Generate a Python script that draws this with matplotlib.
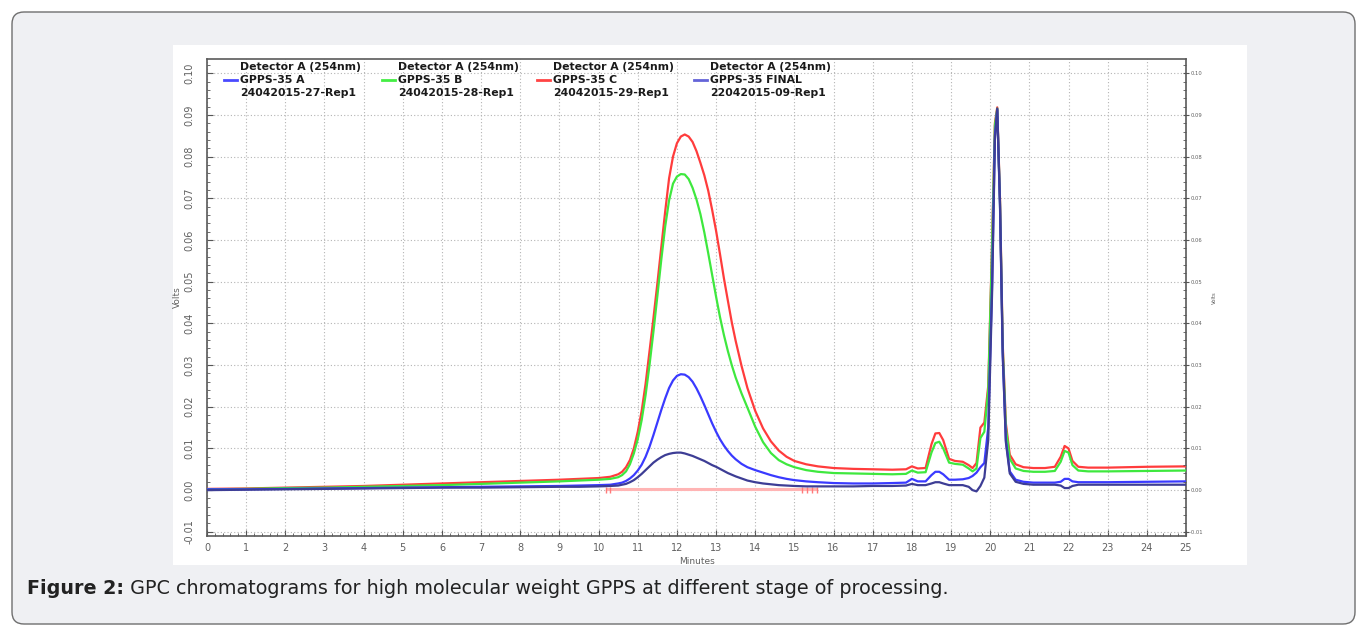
import matplotlib
matplotlib.use("Agg")
import matplotlib.pyplot as plt
from matplotlib.patches import FancyBboxPatch, Rectangle
from matplotlib.ticker import MultipleLocator, FixedLocator

# ---------------- data ----------------
time_min = [0, 1, 2, 3, 4, 5, 6, 7, 8, 9, 9.5, 10, 10.3,
            10.5, 10.6, 10.7, 10.8, 10.9, 11.0, 11.1, 11.2, 11.3, 11.4,
            11.5, 11.6, 11.7, 11.8, 11.9, 12.0, 12.1, 12.2, 12.3, 12.4,
            12.5, 12.6, 12.7, 12.8, 12.9, 13.0, 13.1, 13.2, 13.3, 13.4, 13.5,
            13.65, 13.8, 14.0, 14.2, 14.4, 14.6, 14.8, 15.0, 15.3, 15.6, 16.0, 16.5, 17.0,
            17.5, 17.85, 18.0, 18.15, 18.35, 18.5, 18.6, 18.7, 18.8, 18.95,
            19.1, 19.3, 19.45, 19.55, 19.65, 19.75, 19.85, 19.95, 20.05,
            20.12, 20.18, 20.25, 20.32, 20.4, 20.5, 20.65, 20.85, 21.1, 21.4,
            21.65, 21.8, 21.9, 22.0, 22.1, 22.25, 22.5, 23.0, 24.0, 25.0]

gpps_c = [0.0003, 0.0004, 0.0006, 0.0008, 0.0010, 0.0013, 0.0016, 0.0019, 0.0022, 0.0025, 0.0027, 0.0029, 0.0032,
          0.0038, 0.0044, 0.0055, 0.0072, 0.0100, 0.0140, 0.0190, 0.0255, 0.0333, 0.0412,
          0.0495, 0.0582, 0.0668, 0.0748, 0.0800, 0.0832, 0.0848, 0.0853, 0.0848, 0.0835,
          0.0813, 0.0785, 0.0755, 0.0718, 0.0672, 0.0622, 0.0566, 0.0508, 0.0455, 0.0403, 0.0358,
          0.0298, 0.0245, 0.0190, 0.0148, 0.0117, 0.0095, 0.0080, 0.0070, 0.0062, 0.0057, 0.0053, 0.0051, 0.0050,
          0.0049, 0.0050, 0.0057, 0.0052, 0.0053, 0.0110, 0.0136, 0.0137, 0.0120, 0.0075,
          0.0070, 0.0068, 0.0060, 0.0053, 0.0065, 0.0150, 0.0162, 0.0250, 0.0600,
          0.0880, 0.0918, 0.0700, 0.0350, 0.0160, 0.0085, 0.0062, 0.0055, 0.0053, 0.0053,
          0.0056, 0.0080, 0.0106, 0.0100, 0.0070, 0.0056, 0.0054, 0.0054, 0.0056, 0.0057]

gpps_b = [0.0002, 0.0003, 0.0005, 0.0006, 0.0008, 0.0010, 0.0012, 0.0015, 0.0018, 0.0021, 0.0023, 0.0025, 0.0027,
          0.0031, 0.0036, 0.0045, 0.0062, 0.0088, 0.0122, 0.0168, 0.0228, 0.0300, 0.0380,
          0.0465, 0.0552, 0.0632, 0.0695, 0.0735, 0.0752, 0.0758, 0.0757, 0.0746, 0.0725,
          0.0697, 0.0662, 0.0618, 0.0568, 0.0516, 0.0464, 0.0415, 0.0372, 0.0334, 0.0300, 0.0270,
          0.0232, 0.0198, 0.0152, 0.0115, 0.0089, 0.0072, 0.0062, 0.0055, 0.0048, 0.0044, 0.0041, 0.0040, 0.0039,
          0.0038, 0.0039, 0.0047, 0.0042, 0.0043, 0.0090, 0.0113, 0.0116, 0.0100, 0.0066,
          0.0063, 0.0061, 0.0052, 0.0045, 0.0052, 0.0125, 0.0140, 0.0240, 0.0590,
          0.0875, 0.0915, 0.0690, 0.0340, 0.0150, 0.0075, 0.0052, 0.0046, 0.0044, 0.0044,
          0.0046, 0.0068, 0.0094, 0.0090, 0.0060, 0.0047, 0.0045, 0.0045, 0.0046, 0.0047]

gpps_a = [0.0002, 0.0002, 0.0003, 0.0004, 0.0005, 0.0006, 0.0007, 0.0008, 0.0009, 0.0010, 0.0011, 0.0012, 0.0013,
          0.0016, 0.0018, 0.0022, 0.0028, 0.0036, 0.0047, 0.0061, 0.0080, 0.0104, 0.0132,
          0.0162, 0.0192, 0.0220, 0.0245, 0.0263, 0.0274, 0.0278, 0.0277, 0.0271, 0.0260,
          0.0244, 0.0225, 0.0204, 0.0182, 0.0160, 0.0140, 0.0122, 0.0107, 0.0094, 0.0083, 0.0074,
          0.0063, 0.0055, 0.0048, 0.0042, 0.0036, 0.0031, 0.0027, 0.0024, 0.0021, 0.0019, 0.0017, 0.0016, 0.0016,
          0.0017, 0.0018, 0.0027, 0.0021, 0.0021, 0.0036, 0.0044, 0.0044, 0.0038, 0.0025,
          0.0025, 0.0026, 0.0029, 0.0034, 0.0042, 0.0055, 0.0065, 0.0150, 0.0500,
          0.0850, 0.0912, 0.0680, 0.0320, 0.0120, 0.0045, 0.0025, 0.0020, 0.0018, 0.0018,
          0.0018, 0.0020, 0.0027, 0.0027, 0.0021, 0.0019, 0.0019, 0.0019, 0.0020, 0.0021]

gpps_final = [0.0000, 0.0001, 0.0002, 0.0003, 0.0004, 0.0005, 0.0006, 0.0006, 0.0007, 0.0008, 0.0008, 0.0009, 0.0010,
              0.0011, 0.0013, 0.0015, 0.0019, 0.0024, 0.0031, 0.0039, 0.0048, 0.0057, 0.0066,
              0.0073, 0.0079, 0.0084, 0.0087, 0.0089, 0.0090, 0.0090, 0.0088, 0.0085, 0.0082,
              0.0078, 0.0074, 0.0070, 0.0065, 0.0060, 0.0056, 0.0051, 0.0046, 0.0041, 0.0037, 0.0033,
              0.0028, 0.0023, 0.0019, 0.0016, 0.0014, 0.0012, 0.0011, 0.0010, 0.0009, 0.0009, 0.0009, 0.0009, 0.0010,
              0.0010, 0.0011, 0.0015, 0.0012, 0.0012, 0.0016, 0.0019, 0.0019, 0.0016, 0.0012,
              0.0012, 0.0012, 0.0008, 0.0000, -0.0003, 0.0010, 0.0030, 0.0120, 0.0480,
              0.0840, 0.0915, 0.0690, 0.0330, 0.0115, 0.0040, 0.0020, 0.0015, 0.0013, 0.0013,
              0.0013, 0.0011, 0.0005, 0.0005, 0.0010, 0.0013, 0.0013, 0.0013, 0.0013, 0.0013]

integration_baseline_x = [10.25, 15.55]
integration_baseline_y = [0.0003, 0.0003]
event_marks_x = [10.2, 10.3, 15.2, 15.33, 15.45, 15.58]

legend_detector = ["Detector A (254nm)"] * 4
legend_samples = ["GPPS-35 A", "GPPS-35 B", "GPPS-35 C", "GPPS-35 FINAL"]
legend_runs = ["24042015-27-Rep1", "24042015-28-Rep1", "24042015-29-Rep1", "22042015-09-Rep1"]

y_ticks = [-0.01, 0.00, 0.01, 0.02, 0.03, 0.04, 0.05, 0.06, 0.07, 0.08, 0.09, 0.10]
x_ticks = list(range(0, 26))

caption_bold = "Figure 2:"
caption_text = " GPC chromatograms for high molecular weight GPPS at different stage of processing."

for arr in (gpps_a, gpps_b, gpps_c, gpps_final):
    assert len(arr) == len(time_min)

# ---------------- styles ----------------
series = [
    (gpps_c, "#ff3c3c"),
    (gpps_b, "#3ee83e"),
    (gpps_a, "#3a3aff"),
    (gpps_final, "#3d3d95"),
]
legend_colors = ["#4a4aff", "#44ee44", "#ff4444", "#6464d8"]

W, H = 1367, 635
fig = plt.figure(figsize=(W / 100, H / 100), dpi=100)
fig.patch.set_facecolor("white")

# background layer in pixel coordinates
bg = fig.add_axes([0, 0, 1, 1], zorder=0)
bg.set_xlim(0, W)
bg.set_ylim(H, 0)
bg.axis("off")
bg.add_patch(FancyBboxPatch((12, 12), 1343, 612,
                            boxstyle="round,pad=0,rounding_size=12",
                            facecolor="#eff0f3", edgecolor="#6f6f6f", linewidth=1.0))
bg.add_patch(Rectangle((173, 45), 1074, 520, facecolor="white", edgecolor="none"))

# main axes
left, right, top, bottom = 207, 1186, 59, 536
ax = fig.add_axes([left / W, 1 - bottom / H, (right - left) / W, (bottom - top) / H], zorder=2)
ax.set_facecolor("white")
ax.set_xlim(0, 25)
ax.set_ylim(-0.0110, 0.1034)

ax.xaxis.set_major_locator(FixedLocator(x_ticks))
ax.yaxis.set_major_locator(FixedLocator(y_ticks))
ax.xaxis.set_minor_locator(MultipleLocator(0.2))
ax.yaxis.set_minor_locator(MultipleLocator(0.002))
ax.grid(True, which="major", color="#b4b4b4", linestyle=(0, (1, 2)), linewidth=0.8)
ax.set_axisbelow(True)

ax.tick_params(axis="both", which="major", direction="in", length=4, width=0.8,
               color="#555555", labelsize=7, labelcolor="#606060")
ax.tick_params(axis="both", which="minor", direction="in", length=2, width=0.6,
               color="#555555")
ax.set_xticklabels([str(t) for t in x_ticks])
ax.set_yticklabels(["%.2f" % t for t in y_ticks], rotation=90, va="center")
ax.tick_params(axis="y", pad=9)
ax.tick_params(axis="x", pad=5)
for sp in ax.spines.values():
    sp.set_color("#5a5a5a")
    sp.set_linewidth(1.2)

ax.set_xlabel("Minutes", fontsize=6.5, color="#606060", labelpad=3)
ax.set_ylabel("Volts", fontsize=6.5, color="#606060", labelpad=2)

ax.plot(integration_baseline_x, integration_baseline_y, color="#ffb4b4", linewidth=2.2, zorder=2)
ax.plot(event_marks_x, [0.0] * len(event_marks_x), linestyle="none", marker="|",
        markersize=5, markeredgewidth=1.0, color="#ff7a7a", zorder=2)

for ys, col in series:
    ax.plot(time_min, ys, color=col, linewidth=1.6, zorder=3, solid_joinstyle="round")

# right axis
ax2 = ax.twinx()
ax2.set_ylim(ax.get_ylim())
ax2.yaxis.set_major_locator(FixedLocator(y_ticks))
ax2.yaxis.set_minor_locator(MultipleLocator(0.002))
ax2.set_yticklabels(["%.2f" % t for t in y_ticks])
ax2.tick_params(axis="y", which="major", direction="inout", length=4, width=0.8,
                color="#555555", labelsize=3.8, labelcolor="#606060", pad=1)
ax2.tick_params(axis="y", which="minor", direction="in", length=2, width=0.6, color="#555555")
ax2.set_ylabel("Volts", fontsize=3.8, color="#606060", labelpad=6)
for sp in ax2.spines.values():
    sp.set_visible(False)

# legend block
col_text_x = [240, 398, 553, 710]
row_y = [67, 80, 93]
txt_kw = dict(fontsize=7.8, fontweight="bold", color="#1a1a1a", va="center", ha="left",
              family="DejaVu Sans", zorder=5)
for i in range(4):
    x0 = col_text_x[i]
    fig.text(x0 / W, 1 - row_y[0] / H, legend_detector[i], **txt_kw)
    fig.text(x0 / W, 1 - row_y[1] / H, legend_samples[i], **txt_kw)
    fig.text(x0 / W, 1 - row_y[2] / H, legend_runs[i], **txt_kw)
    fig.add_artist(plt.Line2D([(x0 - 16) / W, (x0 - 3) / W],
                              [1 - row_y[1] / H, 1 - row_y[1] / H],
                              color=legend_colors[i], linewidth=2.0, zorder=5))

# caption (same family and size for both parts, total width fitted)
renderer = fig.canvas.get_renderer()
cap_size = 12
t1 = fig.text(27 / W, 1 - 588 / H, caption_bold, fontsize=cap_size, fontweight="bold",
              family="DejaVu Sans", color="#222222", va="center", ha="left")
bb = t1.get_window_extent(renderer=renderer)
t2 = fig.text(bb.x1 / W, 1 - 588 / H, caption_text, fontsize=cap_size,
              family="DejaVu Sans", color="#222222", va="center", ha="left")
total = t2.get_window_extent(renderer=renderer).x1 - bb.x0
new_size = cap_size * (946 - 27) / total
t1.set_fontsize(new_size)
bb = t1.get_window_extent(renderer=renderer)
t2.set_fontsize(new_size)
t2.set_x(bb.x1 / W)

fig.savefig("out.png", dpi=100, facecolor=fig.get_facecolor())
